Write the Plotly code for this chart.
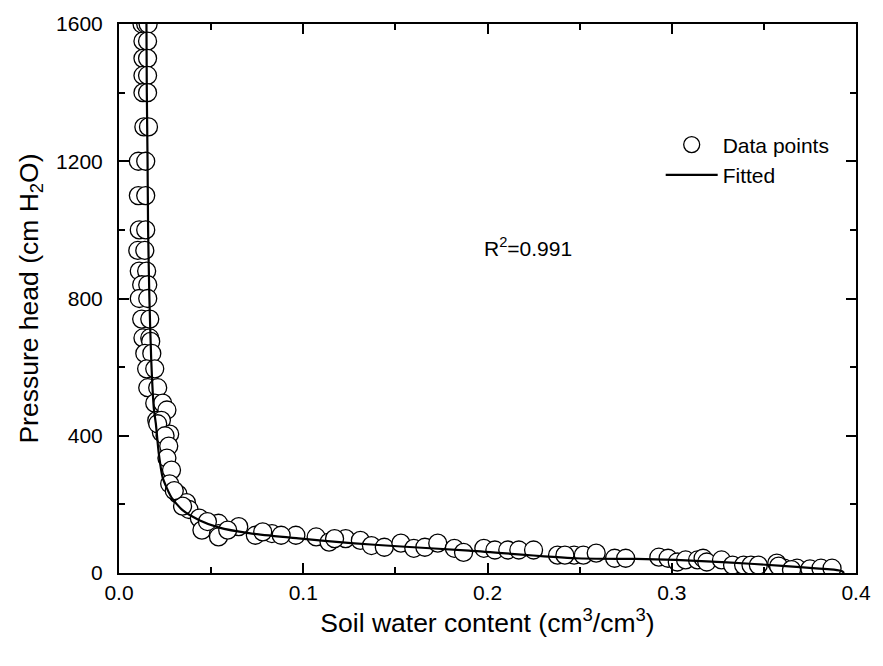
import plotly.graph_objects as go

# Measured retention data: volumetric water content (cm3/cm3) and pressure head (cm H2O)
theta_obs = [
    0.0125, 0.0145, 0.0158, 0.0130, 0.0155, 0.0130, 0.0155, 0.0130, 0.0155,
    0.0130, 0.0155, 0.0135, 0.0160, 0.0105, 0.0145, 0.0105, 0.0145, 0.0110,
    0.0145, 0.0102, 0.0140, 0.0110, 0.0150, 0.0123, 0.0156, 0.0110, 0.0156,
    0.0123, 0.0167, 0.0130, 0.0167, 0.0172, 0.0140, 0.0178, 0.0150, 0.0194,
    0.0156, 0.0210, 0.0194, 0.0237, 0.0260, 0.0205, 0.0230, 0.0230, 0.0275,
    0.0210, 0.0250, 0.0270, 0.0260, 0.0285, 0.0275, 0.0320, 0.0366, 0.0380,
    0.0436, 0.0450, 0.0540, 0.0540, 0.0540, 0.0650, 0.0740, 0.0830, 0.0960,
    0.1070, 0.1140, 0.1230, 0.1310, 0.1370, 0.1440, 0.1530, 0.1600, 0.1660,
    0.1730, 0.1820, 0.1870, 0.1980, 0.2040, 0.2110, 0.2170, 0.2250, 0.2380,
    0.2470, 0.2520, 0.2590, 0.2690, 0.2750, 0.2930, 0.2980, 0.3030, 0.3075,
    0.3140, 0.3170, 0.3190, 0.3270, 0.3330, 0.3390, 0.3430, 0.3470, 0.3570,
    0.3610, 0.3680, 0.3750, 0.3810, 0.3870, 0.0590, 0.0880, 0.1170, 0.0780,
    0.0480, 0.0345, 0.0300, 0.2420, 0.3580, 0.3650,
]
head_obs = [
    1600, 1600, 1600, 1550, 1550, 1500, 1500, 1450, 1450,
    1400, 1400, 1300, 1300, 1200, 1200, 1100, 1100, 1000,
    1000, 940, 940, 880, 880, 840, 840, 800, 800,
    740, 740, 685, 685, 675, 640, 640, 595, 595,
    540, 540, 495, 495, 475, 445, 445, 410, 405,
    435, 400, 370, 335, 300, 260, 230, 205, 185,
    160, 125, 145, 115, 105, 135, 110, 115, 110,
    105, 90, 100, 95, 80, 75, 87, 72, 75,
    87, 72, 60, 72, 67, 67, 67, 67, 52,
    52, 52, 58, 43, 43, 46, 43, 32, 38,
    38, 43, 32, 38, 23, 23, 23, 23, 29,
    14, 14, 12, 14, 14, 125, 110, 100, 120,
    150, 195, 240, 52, 20, 10,
]

# Fitted retention curve traced as (theta, h) pairs
theta_fit = [0.0149, 0.0151, 0.0155, 0.0158, 0.0165, 0.0175, 0.0189, 0.0200,
             0.0216, 0.0237, 0.0285, 0.0345, 0.0436, 0.0540, 0.0705, 0.0974,
             0.1260, 0.1510, 0.1900, 0.2480, 0.2805, 0.3020, 0.3300, 0.3600,
             0.3800, 0.3880, 0.3925, 0.3935]
head_fit = [1600, 1400, 1200, 1000, 800, 620, 480, 435,
            348, 278, 220, 183, 154, 133, 116, 101,
            87, 78, 65, 43, 41, 38, 31, 21,
            13, 10, 5, 0]

r2_text = "R<sup>2</sup>=0.991"

font_family = "Liberation Sans, Arial, sans-serif"

fig = go.Figure()
fig.add_trace(go.Scatter(
    x=theta_obs, y=head_obs, mode="markers", name="Data points",
    marker=dict(symbol="circle", size=18, color="white",
                line=dict(color="black", width=1.3)),
))
fig.add_trace(go.Scatter(
    x=theta_fit, y=head_fit, mode="lines", name="Fitted",
    line=dict(color="black", width=2.2, shape="spline", smoothing=0.6),
))

fig.add_annotation(x=0.222, y=950, xref="x", yref="y", text=r2_text,
                   showarrow=False, font=dict(size=21, color="black"))

axis_common = dict(
    showline=True, linecolor="black", linewidth=2, mirror="ticks",
    ticks="inside", ticklen=10, tickwidth=2, tickcolor="black",
    showgrid=False, zeroline=False,
    tickfont=dict(size=21, color="black", family=font_family),
)

fig.update_xaxes(
    range=[0, 0.4], dtick=0.1, tickformat=".1f",
    minor=dict(ticks="inside", ticklen=6, tickwidth=2, tickcolor="black", dtick=0.05),
    title=dict(text="Soil water content (cm<sup>3</sup>/cm<sup>3</sup>)",
               font=dict(size=26.5, color="black", family=font_family), standoff=0),
    ticklabelstandoff=0,
    **axis_common,
)
fig.update_yaxes(
    range=[0, 1600], dtick=400,
    minor=dict(ticks="inside", ticklen=6, tickwidth=2, tickcolor="black", dtick=200),
    title=dict(text="Pressure head (cm H<sub>2</sub>O)",
               font=dict(size=26.5, color="black", family=font_family), standoff=10),
    ticklabelstandoff=10,
    **axis_common,
)

fig.update_layout(
    width=883, height=666,
    margin=dict(l=119, r=21, t=21, b=93),
    paper_bgcolor="white", plot_bgcolor="white",
    font=dict(family=font_family, color="black"),
    showlegend=True,
    legend=dict(x=0.735, y=0.817, xanchor="left", yanchor="top",
                bgcolor="rgba(0,0,0,0)", font=dict(size=21, color="black"),
                itemwidth=52, tracegroupgap=0),
)

fig.write_html("out.html")
